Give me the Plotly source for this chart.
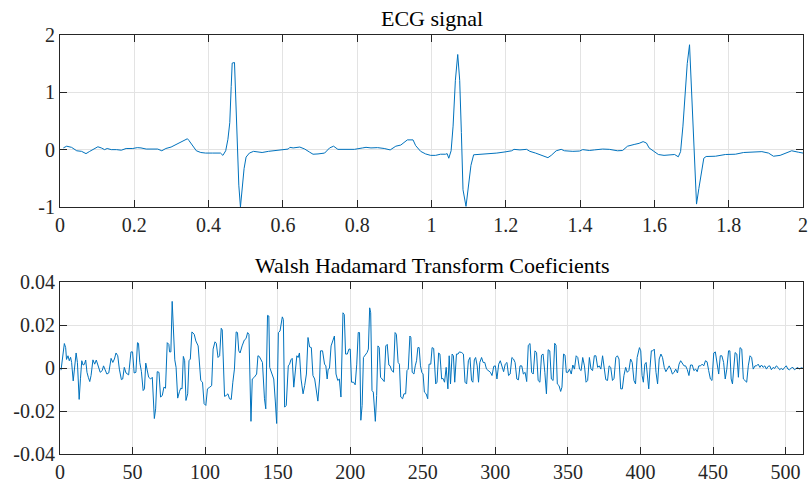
import plotly.graph_objects as go

# ---------------- data ----------------
ecg_t = [0.009, 0.018, 0.031, 0.045, 0.058, 0.070, 0.080, 0.094, 0.102, 0.111, 0.120, 0.127, 0.138, 0.152,
         0.165, 0.178, 0.196, 0.208, 0.218, 0.232, 0.250, 0.263, 0.274, 0.285, 0.299, 0.312, 0.325, 0.343,
         0.347, 0.357, 0.367, 0.379, 0.392, 0.410, 0.428, 0.432, 0.4385, 0.446, 0.452, 0.457, 0.4608, 0.4635,
         0.4697, 0.4724, 0.4768, 0.4813, 0.4857, 0.4902, 0.4955, 0.5009, 0.5098, 0.521, 0.544, 0.561, 0.575,
         0.588, 0.600, 0.6143, 0.6187, 0.6276, 0.6455, 0.6588, 0.6722, 0.6811, 0.6945, 0.7123, 0.7257, 0.7364,
         0.7480, 0.7658, 0.7925, 0.8148, 0.8237, 0.8371, 0.8549, 0.8727, 0.8888, 0.9039, 0.9173, 0.9351,
         0.9503, 0.9574, 0.9708, 0.9841, 0.9975, 1.0109, 1.0242, 1.0376, 1.0421, 1.0465, 1.0528, 1.0581,
         1.0643, 1.0706, 1.0759, 1.0804, 1.0848, 1.0929, 1.1000, 1.1062, 1.1134, 1.1312, 1.1535, 1.1758,
         1.1980, 1.2159, 1.2221, 1.2381, 1.2560, 1.2649, 1.2800, 1.2955, 1.3134, 1.3223, 1.3357, 1.3491,
         1.3580, 1.3804, 1.3982, 1.4071, 1.4250, 1.4384, 1.4607, 1.4786, 1.5009, 1.5143, 1.5277, 1.5455,
         1.5589, 1.5696, 1.5786, 1.5857, 1.5991, 1.6107, 1.6259, 1.6393, 1.6545, 1.6643, 1.6705, 1.6768,
         1.6839, 1.6884, 1.6946, 1.6991, 1.7036, 1.7080, 1.7134, 1.7196, 1.7259, 1.7330, 1.7393, 1.7643,
         1.7911, 1.8179, 1.8402, 1.8625, 1.8893, 1.9071, 1.9205, 1.9384, 1.9563, 1.9696, 1.9875, 2.0]
ecg_v = [0.03, 0.06, 0.04, -0.02, -0.03, -0.07, -0.03, 0.03, 0.05, 0.03, 0.0, 0.02, 0.0, 0.0,
         -0.01, 0.02, 0.02, 0.035, 0.03, 0.01, 0.01, 0.01, -0.02, 0.02, 0.045, 0.09, 0.14, 0.19,
         0.16, 0.07, -0.02, -0.05, -0.06, -0.06, -0.06, -0.06, -0.10, -0.02, 0.18, 0.47, 1.10, 1.51,
         1.52, 0.93, -0.05, -0.62, -1.0, -0.68, -0.33, -0.13, -0.06, -0.03, -0.05, -0.03, -0.02,
         -0.01, 0.0, 0.01, 0.04, 0.03, 0.045, 0.01, -0.045, -0.08, -0.075, -0.06, 0.03, 0.06,
         0.005, 0.005, 0.005, 0.03, 0.04, 0.03, 0.035, 0.02, -0.005, 0.06, 0.08, 0.17,
         0.17, 0.07, -0.03, -0.075, -0.10, -0.10, -0.08, -0.08, -0.07, -0.15, -0.02, 0.41,
         1.21, 1.66, 1.21, 0.30, -0.70, -0.99, -0.62, -0.275, -0.09, -0.085, -0.075, -0.06,
         -0.04, -0.02, 0.005, -0.005, 0.005, -0.03, -0.06, -0.10, -0.14, -0.10, -0.02, 0.005,
         -0.02, -0.03, -0.025, 0.0, -0.015, -0.005, 0.01, 0.005, -0.02, -0.015, 0.06, 0.09,
         0.11, 0.14, 0.115, 0.03, -0.03, -0.085, -0.10, -0.09, -0.085, -0.125, -0.035, 0.41,
         1.10, 1.50, 1.83, 1.16, 0.30, -0.39, -0.95, -0.68, -0.39, -0.15, -0.12, -0.115,
         -0.085, -0.08, -0.05, -0.04, -0.035, -0.06, -0.115, -0.10, -0.06, -0.02, -0.045, -0.06]

wht_index = [0.7, 3.0, 3.9, 4.5, 5.5, 6.4, 7.3, 8.0, 9.1, 10.0, 11.1, 12.0, 13.2, 14.1, 15.0, 15.9, 16.8, 17.7,
             18.6, 19.5, 20.5, 21.4, 22.7, 23.9, 25.0, 26.1, 27.7, 29.1, 30.0, 30.9, 32.3, 33.6, 35.2, 36.4,
             37.5, 38.6, 39.8, 40.9, 42.3, 43.2, 44.3, 45.5, 47.3, 48.9, 50.0, 51.1, 52.3, 53.4, 54.1, 55.0,
             56.1, 57.3, 58.2, 59.1, 60.0, 61.1, 62.5, 63.6, 65.0, 65.9, 67.0, 68.2, 69.3, 70.5, 71.6, 72.7,
             73.9, 75.0, 75.5, 76.4, 77.3, 78.2, 79.1, 80.0, 81.1, 82.3, 83.2, 84.1, 85.0, 85.9, 86.8, 88.0,
             88.9, 89.8, 90.9, 92.5, 93.6, 95.2, 95.9, 97.0, 98.2, 99.3, 100.5, 101.6, 103.2, 104.5, 105.5,
             106.8, 107.7, 108.9, 110.0, 111.1, 111.8, 112.7, 113.4, 114.5, 115.7, 116.8, 118.0, 119.1, 120.2,
             121.4, 122.3, 123.2, 124.1, 125.5, 127.0, 128.2, 129.3, 130.2, 130.9, 131.6, 132.5, 133.9, 135.5,
             136.4, 137.3, 138.6, 139.5, 140.9, 141.8, 143.0, 143.9, 144.5, 145.9, 147.3, 148.4, 149.3, 150.5,
             151.6, 153.2, 153.9, 154.8, 155.9, 157.3, 158.2, 159.1, 160.0, 161.1, 162.3, 163.2, 164.1, 165.0,
             166.1, 167.5, 168.6, 169.8, 170.9, 172.0, 173.2, 174.3, 175.5, 176.6, 177.7, 178.9, 179.5, 180.9,
             182.3, 183.2, 184.1, 184.8, 185.7, 186.8, 188.0, 189.1, 190.2, 191.4, 192.5, 193.6, 195.0, 195.9,
             196.8, 198.0, 199.1, 200.0, 200.9, 202.3, 203.4, 204.5, 205.5, 206.4, 207.3, 208.2, 209.1, 210.2,
             211.6, 212.5, 213.4, 214.1, 215.0, 215.9, 217.3, 218.2, 219.1, 220.0, 220.9, 222.0, 223.4, 224.5,
             225.5, 226.6, 227.5, 228.4, 229.8, 230.9, 231.8, 233.0, 233.9, 234.8, 236.1, 237.0, 238.2, 239.1,
             240.0, 241.1, 241.8, 242.7, 243.9, 244.8, 245.7, 246.6, 247.5, 248.4, 249.3, 250.2, 251.1, 252.3,
             253.4, 254.3, 255.5, 256.4, 257.5, 258.9, 259.8, 260.9, 261.8, 263.0, 263.9, 265.0, 266.1, 267.3,
             268.2, 269.1, 270.2, 271.1, 272.0, 273.2, 274.3, 275.2, 276.8, 278.0, 279.1, 280.2, 281.4, 282.5,
             283.6, 284.5, 285.5, 286.4, 287.5, 288.4, 289.3, 290.5, 291.6, 292.7, 293.9, 296.6, 297.7, 298.9,
             300.0, 301.1, 302.3, 303.4, 304.5, 305.7, 306.8, 308.0, 309.1, 310.2, 311.4, 312.5, 313.6, 314.8,
             315.9, 317.0, 318.2, 319.3, 320.5, 321.6, 322.7, 323.9, 325.0, 326.1, 327.3, 328.4, 329.5, 330.7,
             331.8, 332.9, 334.1, 335.2, 336.4, 337.5, 338.6, 339.8, 340.9, 341.8, 342.7, 343.9, 345.0, 345.9,
             347.0, 348.0, 348.9, 350.0, 351.1, 352.3, 353.4, 354.5, 355.7, 356.8, 358.0, 359.1, 360.2, 361.4,
             362.5, 363.6, 364.8, 365.9, 367.0, 368.2, 369.3, 370.5, 371.6, 372.7, 373.9, 375.0, 376.1, 377.3,
             378.4, 379.5, 380.7, 381.8, 383.0, 384.1, 385.2, 386.4, 387.5, 388.6, 389.8, 390.9, 392.0, 393.2,
             394.3, 395.5, 396.6, 397.7, 399.3, 400.2, 401.1, 402.0, 403.0, 403.9, 404.8, 405.7, 406.6, 407.5,
             408.4, 409.5, 410.7, 411.8, 412.9, 414.1, 415.2, 416.4, 417.5, 418.6, 419.8, 420.9, 422.0, 423.2,
             424.3, 425.5, 426.6, 427.7, 428.9, 430.0, 431.1, 432.3, 433.4, 434.5, 435.7, 436.8, 438.0, 439.1,
             440.2, 441.4, 442.5, 443.6, 444.8, 445.9, 447.0, 448.2, 449.3, 450.5, 451.6, 452.7, 453.9, 455.0,
             456.1, 457.3, 458.4, 459.5, 460.7, 461.6, 462.5, 463.4, 464.3, 465.2, 466.4, 467.5, 468.6, 469.8,
             470.9, 472.0, 473.2, 474.3, 475.5, 476.6, 477.7, 478.9, 480.0, 481.1, 482.3, 483.4, 484.5, 485.7,
             486.8, 488.0, 489.1, 490.2, 491.4, 492.5, 493.6, 494.8, 495.9, 497.0, 498.2, 499.3, 500.5, 501.6,
             502.7, 503.9, 505.0, 506.1, 507.3, 508.4, 509.5, 510.7, 511.8]
wht_coef = [-0.001, 0.0114, 0.0095, 0.004, 0.0057, 0.0034, 0.005, 0.0026, -0.006, 0.001, 0.007, 0.0026, -0.0146,
            -0.005, 0.0034, 0.0014, 0.0017, 0.0037, -0.002, -0.0043, -0.0063, -0.0035, 0.0038, 0.0018, 0.0037,
            0.0014, -0.002, -0.0012, 0.001, -0.0005, -0.0028, -0.0023, 0.0045, 0.0026, 0.0042, 0.007, 0.0057,
            -0.0005, -0.0054, -0.0051, 0.0003, -0.0023, -0.0032, 0.0075, 0.0075, -0.0023, -0.002, 0.0118, 0.0115,
            0.0026, -0.0017, -0.0105, -0.0097, 0.0023, -0.0008, -0.0043, -0.0051, -0.0043, -0.0235, -0.019,
            -0.0017, -0.002, -0.0135, -0.0128, -0.0089, -0.0094, 0.0118, 0.011, 0.0075, 0.0075, 0.031, 0.0203,
            0.0038, 0.0003, -0.014, -0.011, -0.0094, -0.0097, 0.0054, 0.0034, -0.0151, -0.012, 0.0034, 0.0042,
            0.0168, 0.0157, 0.0126, 0.0103, 0.0034, -0.0058, -0.0066, -0.0166, -0.0174, -0.0097, -0.0089, -0.0082,
            0.0088, 0.0122, 0.0115, 0.0049, 0.0057, 0.0185, 0.0177, 0.0042, -0.0132, -0.0128, -0.012, -0.0143,
            -0.0146, -0.0066, -0.0005, 0.0168, 0.0165, 0.008, 0.007, 0.0103, 0.013, 0.0137, 0.0165, 0.0157,
            -0.0035, -0.0248, -0.0051, -0.0043, -0.0028, 0.0057, 0.0054, 0.0034, 0.0026, -0.0143, -0.019, 0.0245,
            0.0242, 0.0003, -0.0023, -0.0051, -0.0158, -0.0258, 0.0165, 0.0172, 0.0238, 0.0226, -0.0182, -0.0174,
            0.001, 0.0018, 0.0038, 0.0045, -0.0089, -0.002, 0.0057, 0.0049, 0.007, -0.0051, -0.012, -0.0082,
            -0.0028, 0.0142, 0.0098, 0.0095, -0.0035, -0.0051, -0.0112, -0.0154, -0.0051, 0.008, 0.008, 0.0018,
            0.001, -0.0051, -0.0005, -0.0002, 0.0103, 0.0126, 0.0149, -0.0028, -0.0058, -0.0051, -0.0135, 0.0257,
            0.0249, 0.0065, 0.0065, 0.0088, 0.0088, -0.0066, -0.0066, -0.0078, 0.0018, 0.0165, 0.0165, -0.0243,
            -0.0174, 0.0049, 0.0057, 0.0072, 0.0088, 0.028, 0.0257, -0.0105, -0.0112, -0.0248, -0.0128, 0.0103,
            0.0095, -0.0043, -0.0051, -0.0063, 0.0103, 0.011, 0.0014, 0.001, -0.0009, -0.002, 0.0165, 0.0157,
            0.0026, 0.0018, -0.0135, -0.0143, -0.012, -0.012, -0.0012, -0.0005, 0.0149, 0.0142, -0.002, -0.0028,
            0.001, 0.0034, 0.0095, 0.0095, 0.001, -0.002, -0.0028, -0.0112, -0.012, -0.0143, 0.0018, 0.0018,
            0.0095, 0.0091, -0.0074, -0.0066, 0.007, 0.0065, -0.0051, -0.0048, -0.0066, 0.0003, -0.0097, 0.0057,
            -0.0074, 0.0065, 0.0057, -0.0066, 0.0065, 0.0065, 0.0075, 0.0072, 0.0065, -0.0066, -0.0074, 0.0034,
            0.0049, -0.0058, -0.0066, 0.0038, 0.0049, 0.001, -0.0066, 0.0026, 0.0049, 0.0026, 0.0026, -0.0005,
            -0.002, -0.0035, 0.0008, 0.001, -0.0051, 0.0018, 0.0034, 0.0003, -0.0017, 0.0018, 0.0026, -0.0035,
            -0.0028, 0.0049, 0.0042, 0.0026, -0.0051, -0.0055, 0.001, 0.001, -0.0028, -0.002, -0.0063, 0.0106,
            0.0114, -0.002, -0.0028, 0.008, 0.0072, -0.0058, -0.0066, 0.006, 0.0065, -0.002, -0.012, 0.0085,
            0.008, -0.0051, -0.0058, 0.0115, 0.0106, -0.0074, -0.0082, -0.0109, -0.0089, 0.0065, 0.006, -0.002,
            -0.002, -0.0005, -0.0028, 0.0014, -0.0005, 0.0057, 0.0049, -0.0005, -0.0012, 0.0049, 0.001, -0.0066,
            -0.0058, 0.0049, -0.0005, -0.0012, 0.0057, 0.0057, 0.0003, 0.001, -0.0005, 0.0057, -0.0012, -0.0054,
            -0.0058, 0.001, 0.0003, -0.0058, -0.0048, 0.0049, 0.0057, 0.0042, -0.0097, -0.0097, -0.0035, 0.0003,
            -0.002, -0.0012, 0.0042, 0.0026, -0.0058, -0.0074, 0.0049, 0.0095, 0.008, -0.0035, -0.0066, 0.0018,
            0.0026, -0.0035, -0.0097, 0.0003, 0.008, 0.008, 0.0088, -0.002, -0.0074, 0.0042, 0.0065, 0.0049,
            0.0003, -0.0017, -0.0005, 0.001, -0.0005, -0.0028, -0.002, -0.0005, -0.0023, 0.0018, 0.0034, 0.0018,
            0.001, 0.001, -0.0008, -0.0035, 0.0014, 0.0014, -0.0012, -0.0005, -0.0017, 0.001, 0.001, 0.0018,
            0.001, 0.0034, 0.0029, -0.0012, -0.0051, -0.0058, 0.007, 0.0075, 0.0034, -0.0028, 0.0057, 0.0057,
            0.0026, -0.0051, -0.0005, 0.008, 0.008, -0.0051, -0.0074, 0.001, 0.0072, 0.0065, -0.0043, 0.0095,
            0.0088, -0.0051, -0.0058, -0.0066, 0.001, 0.0057, 0.0049, -0.0005, 0.001, 0.001, 0.0018, 0.0003,
            0.0014, 0.0003, 0.001, -0.0005, 0.0008, 0.001, -0.0008, 0.0003, -0.0002, 0.001, 0.0003, -0.0008,
            -0.0002, -0.0008, 0.0003, 0.001, -0.0005, -0.0008, 0.0, 0.0003, -0.0008, -0.0002, 0.0003, -0.0005,
            0.0001, 0.0]

ecg_xticks = [0, 0.2, 0.4, 0.6, 0.8, 1, 1.2, 1.4, 1.6, 1.8, 2]
ecg_xlabels = ["0", "0.2", "0.4", "0.6", "0.8", "1", "1.2", "1.4", "1.6", "1.8", "2"]
ecg_yticks = [-1, 0, 1, 2]
ecg_ylabels = ["-1", "0", "1", "2"]
wht_xticks = [0, 50, 100, 150, 200, 250, 300, 350, 400, 450, 500]
wht_xlabels = ["0", "50", "100", "150", "200", "250", "300", "350", "400", "450", "500"]
wht_yticks = [-0.04, -0.02, 0, 0.02, 0.04]
wht_ylabels = ["-0.04", "-0.02", "0", "0.02", "0.04"]

titles = ["ECG signal", "Walsh Hadamard Transform Coeficients"]

# ---------------- figure ----------------
LINE = "#0072BD"
AX = "#262626"
GRID = "#e3e3e3"
FONT = "'Times New Roman', 'Liberation Serif', 'DejaVu Serif', serif"

fig = go.Figure()
fig.add_trace(go.Scatter(x=ecg_t, y=ecg_v, mode="lines", line=dict(color=LINE, width=1),
                         xaxis="x", yaxis="y", showlegend=False))
fig.add_trace(go.Scatter(x=wht_index, y=wht_coef, mode="lines", line=dict(color=LINE, width=1),
                         xaxis="x2", yaxis="y2", showlegend=False))

common = dict(showline=True, linecolor=AX, linewidth=1, mirror="ticks", ticks="inside",
              ticklen=7, tickcolor=AX, tickwidth=1, showgrid=True, gridcolor=GRID, gridwidth=1,
              zeroline=False, tickfont=dict(family=FONT, size=20, color=AX))

top_dom = [(459 - 209) / 424, 1.0]
bot_dom = [0.0, (459 - 285) / 424]

fig.update_layout(
    width=812, height=487,
    margin=dict(l=60, r=4, t=35, b=28),
    paper_bgcolor="white", plot_bgcolor="white",
    font=dict(family=FONT, color=AX),
    xaxis=dict(domain=[0, 1], range=[0, 2], anchor="y", tickvals=ecg_xticks, ticktext=ecg_xlabels, **common),
    yaxis=dict(domain=top_dom, range=[-1, 2], anchor="x", tickvals=ecg_yticks, ticktext=ecg_ylabels, **common),
    xaxis2=dict(domain=[0, 1], range=[0, 512], anchor="y2", tickvals=wht_xticks, ticktext=wht_xlabels, **common),
    yaxis2=dict(domain=bot_dom, range=[-0.04, 0.04], anchor="x2", tickvals=wht_yticks, ticktext=wht_ylabels, **common),
)

fig.add_annotation(text=titles[0], xref="paper", yref="paper", x=0.5, y=(459 - 18) / 424,
                   xanchor="center", yanchor="middle", showarrow=False,
                   font=dict(family=FONT, size=22, color="black"))
fig.add_annotation(text=titles[1], xref="paper", yref="paper", x=0.5, y=(459 - 268) / 424,
                   xanchor="center", yanchor="middle", showarrow=False,
                   font=dict(family=FONT, size=22, color="black"))

fig.write_html("out.html")
